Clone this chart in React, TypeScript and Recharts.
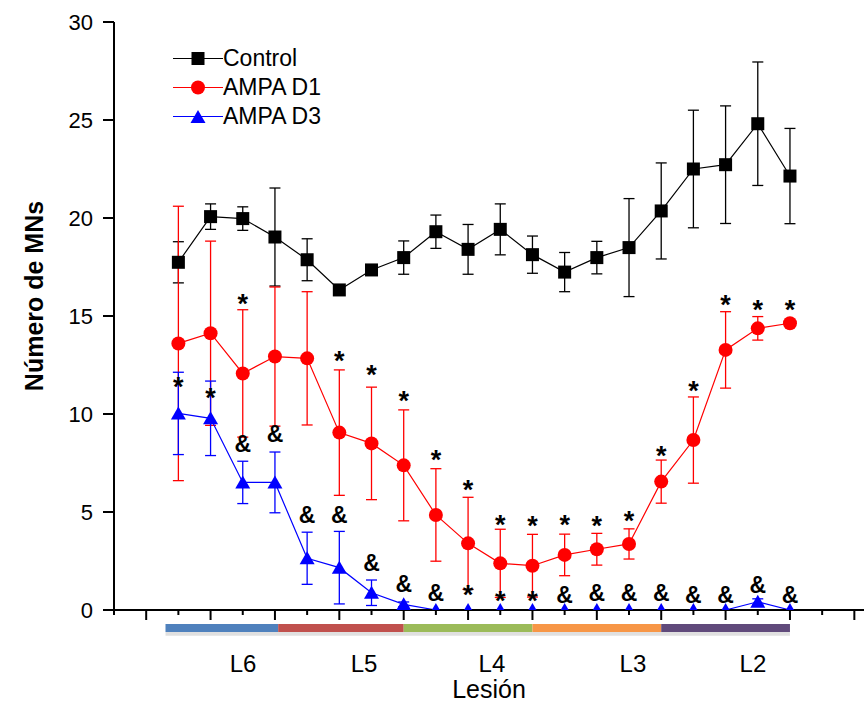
import React from "react";
import {
  ComposedChart,
  Line,
  XAxis,
  YAxis,
  ErrorBar,
  ReferenceArea,
  Legend,
} from "recharts";

// x position of each point (axis index; 0 = y axis)
const pointPos = [2, 3, 4, 5, 6, 7, 8, 9, 10, 11, 12, 13, 14, 15, 16, 17, 18, 19, 20, 21];

const control = [17.74, 20.07, 19.97, 19.03, 17.87, 16.33, 17.35, 17.98, 19.3, 18.4,
  19.42, 18.13, 17.24, 17.98, 18.49, 20.36, 22.5, 22.72, 24.81, 22.14];
const controlErr = [1.05, 0.65, 0.6, 2.5, 1.07, 0.2, 0.25, 0.85, 0.85, 1.27,
  1.3, 0.95, 1.0, 0.83, 2.5, 2.45, 3.0, 3.0, 3.15, 2.43];

const ampaD1 = [13.6, 14.12, 12.07, 12.93, 12.84, 9.05, 8.5, 7.38, 4.85, 3.4,
  2.38, 2.26, 2.81, 3.1, 3.37, 6.55, 8.67, 13.27, 14.37, 14.63];
const ampaD1Err = [7.0, 4.7, 3.25, 3.55, 3.4, 3.2, 2.87, 2.83, 2.36, 2.35,
  1.74, 1.6, 1.06, 0.81, 0.77, 1.1, 2.2, 1.95, 0.6, null];

const ampaD3 = [10.03, 9.78, 6.51, 6.51, 2.64, 2.16, 0.88, 0.29, 0, 0,
  0, 0, 0, 0, 0, 0, 0, 0, 0.42, 0];
const ampaD3Err = [2.1, 1.9, 1.08, 1.55, 1.33, 1.85, 0.65, 0.12, null, null,
  null, null, null, null, null, null, null, null, 0.15, null];

// significance marks, height (in y units) where each glyph sits
const starHigh = [11.68, 11.14, 15.9, null, null, 13.01, 12.3, 10.97, 7.94, 6.41,
  4.63, 4.6, 4.63, 4.6, 4.85, 8.16, 11.48, 15.85, 15.61, 15.61];
const starLow = [null, null, null, null, null, null, null, null, null, 1.06,
  0.77, 0.77, null, null, null, null, null, null, null, null];
const ampMark = [null, null, 8.5, 9.01, 4.85, 4.85, 2.43, 1.36, 0.88, null,
  null, null, 0.77, 0.88, 0.88, 0.88, 0.77, 0.77, 1.28, 0.77];

const xTicks = [0, 1, 2, 3, 4, 5, 6, 7, 8, 9, 10, 11, 12, 13, 14, 15, 16, 17, 18, 19, 20, 21, 22, 23];
const yTicks = [0, 5, 10, 15, 20, 25, 30];

// lesion segments under the axis
const segLabels = ["L6", "L5", "L4", "L3", "L2"];
const segStart = [1.6, 5.1, 9, 13, 17];
const segEnd = [5.1, 9, 13, 17, 21];
const segLabelPos = [4.01, 7.77, 11.74, 16.12, 19.85];
const segColors = ["#4F81BD", "#C0504D", "#9BBB59", "#F79646", "#604A7B"];

const rows = pointPos.map((k, i) => ({
  k,
  control: control[i],
  controlErr: controlErr[i],
  d1: ampaD1[i],
  d1Err: ampaD1Err[i],
  d3: ampaD3[i],
  d3Err: ampaD3Err[i],
  starHigh: starHigh[i],
  starLow: starLow[i],
  amp: ampMark[i],
}));

const FONT = "'Liberation Sans', Arial, sans-serif";

const empty = (p: any) => <g key={p.key} />;

const SquareDot = (p: any) =>
  p.cx == null || p.cy == null ? empty(p) : (
    <rect key={p.key} x={p.cx - 6.5} y={p.cy - 6.5} width={13} height={13} fill="#000" />
  );

const CircleDot = (p: any) =>
  p.cx == null || p.cy == null ? empty(p) : (
    <circle key={p.key} cx={p.cx} cy={p.cy} r={7} fill="#ff0000" />
  );

const TriangleDot = (p: any) =>
  p.cx == null || p.cy == null ? empty(p) : (
    <polygon
      key={p.key}
      points={`${p.cx},${p.cy - 7} ${p.cx - 7.5},${p.cy + 6} ${p.cx + 7.5},${p.cy + 6}`}
      fill="#0000ff"
    />
  );

const markDot = (ch: string, size: number, dy: number) => (p: any) =>
  p.cx == null || p.cy == null || p.value == null ? empty(p) : (
    <text
      key={p.key}
      x={p.cx}
      y={p.cy + dy}
      textAnchor="middle"
      fontSize={size}
      fontWeight="bold"
      fontFamily={FONT}
      fill="#000"
    >
      {ch}
    </text>
  );

const AxisTick = (p: any) => (
  <line
    x1={p.x}
    x2={p.x}
    y1={p.y}
    y2={p.y + (p.payload.value % 2 ? 10 : 5)}
    stroke="#000"
    strokeWidth={2}
  />
);

const SegTick = (p: any) => (
  <text
    x={p.x}
    y={p.y + 52}
    textAnchor="middle"
    fontSize={24}
    fontFamily={FONT}
    fill="#000"
  >
    {segLabels[p.index]}
  </text>
);

const YLabel = (p: any) => {
  const vb = p.viewBox;
  return (
    <text
      transform={`translate(${vb.x + 43}, ${vb.y + vb.height / 2 - 20}) rotate(-90)`}
      textAnchor="middle"
      fontSize={25}
      fontWeight="bold"
      fontFamily={FONT}
      fill="#000"
    >
      Número de MNs
    </text>
  );
};

const legendItems = [
  { name: "Control", color: "#000", shape: "square" },
  { name: "AMPA D1", color: "#ff0000", shape: "circle" },
  { name: "AMPA D3", color: "#0000ff", shape: "triangle" },
];

const LegendBox = () => (
  <div style={{ fontFamily: FONT }}>
    {legendItems.map((it) => (
      <div key={it.name} style={{ display: "flex", alignItems: "center", height: 29 }}>
        <svg width={50} height={29}>
          <line x1={0} x2={50} y1={14.5} y2={14.5} stroke={it.color} strokeWidth={1.2} />
          {it.shape === "square" && <rect x={18.5} y={8} width={13} height={13} fill={it.color} />}
          {it.shape === "circle" && <circle cx={25} cy={14.5} r={7} fill={it.color} />}
          {it.shape === "triangle" && <polygon points="25,8 17.5,21 32.5,21" fill={it.color} />}
        </svg>
        <span style={{ fontSize: 23, color: "#000", lineHeight: 1 }}>{it.name}</span>
      </div>
    ))}
  </div>
);

export default function App() {
  return (
    <>
      <style>{"body{margin:0}"}</style>
      <ComposedChart
        width={864}
        height={707}
        data={rows}
        margin={{ top: 22, right: 0, bottom: 0, left: 0 }}
        style={{ fontFamily: FONT }}
      >
        <XAxis
          dataKey="k"
          type="number"
          domain={[0, 23.3]}
          ticks={xTicks}
          interval={0}
          height={10}
          tickSize={0}
          tickMargin={0}
          tickLine={false}
          tick={AxisTick}
          axisLine={{ stroke: "#000", strokeWidth: 2 }}
        />
        <XAxis
          xAxisId="seg"
          dataKey="k"
          type="number"
          domain={[0, 23.3]}
          ticks={segLabelPos}
          interval={0}
          height={87}
          tickSize={0}
          tickMargin={0}
          tickLine={false}
          axisLine={false}
          tick={SegTick}
          label={{
            value: "Lesión",
            position: "insideBottom",
            offset: 9,
            fontSize: 25,
            fill: "#000",
            fontFamily: FONT,
          }}
        />
        <YAxis
          type="number"
          domain={[0, 30]}
          ticks={yTicks}
          allowDataOverflow
          width={114}
          tickSize={11}
          tickMargin={10}
          tick={{ fill: "#000", fontSize: 22, fontFamily: FONT }}
          tickLine={{ stroke: "#000", strokeWidth: 2 }}
          axisLine={{ stroke: "#000", strokeWidth: 2 }}
          label={YLabel}
        />
        {segStart.map((s, i) => (
          <ReferenceArea
            key={segLabels[i]}
            x1={s}
            x2={segEnd[i]}
            y1={-0.71}
            y2={-1.12}
            ifOverflow="visible"
            fill={segColors[i]}
            fillOpacity={1}
            stroke="none"
          />
        ))}
        <ReferenceArea
          x1={segStart[0]}
          x2={segEnd[segEnd.length - 1]}
          y1={-1.12}
          y2={-1.32}
          ifOverflow="visible"
          fill="#000"
          fillOpacity={0.12}
          stroke="none"
        />
        <Legend
          layout="horizontal"
          verticalAlign="middle"
          align="center"
          wrapperStyle={{ left: 173, top: 44, width: 200, height: 87 }}
          content={LegendBox}
        />
        <Line
          dataKey="control"
          stroke="#000"
          strokeWidth={1.2}
          dot={SquareDot}
          activeDot={false}
          isAnimationActive={false}
        >
          <ErrorBar dataKey="controlErr" direction="y" width={5.5} stroke="#000" strokeWidth={1.3} />
        </Line>
        <Line
          dataKey="d1"
          stroke="#ff0000"
          strokeWidth={1.2}
          dot={CircleDot}
          activeDot={false}
          isAnimationActive={false}
        >
          <ErrorBar dataKey="d1Err" direction="y" width={5.5} stroke="#ff0000" strokeWidth={1.3} />
        </Line>
        <Line
          dataKey="d3"
          stroke="#0000ff"
          strokeWidth={1.2}
          dot={TriangleDot}
          activeDot={false}
          isAnimationActive={false}
        >
          <ErrorBar dataKey="d3Err" direction="y" width={5.5} stroke="#0000ff" strokeWidth={1.3} />
        </Line>
        <Line
          dataKey="starHigh"
          stroke="none"
          dot={markDot("*", 27, 15)}
          activeDot={false}
          isAnimationActive={false}
        />
        <Line
          dataKey="starLow"
          stroke="none"
          dot={markDot("*", 27, 15)}
          activeDot={false}
          isAnimationActive={false}
        />
        <Line
          dataKey="amp"
          stroke="none"
          dot={markDot("&", 23, 8.5)}
          activeDot={false}
          isAnimationActive={false}
        />
      </ComposedChart>
    </>
  );
}
